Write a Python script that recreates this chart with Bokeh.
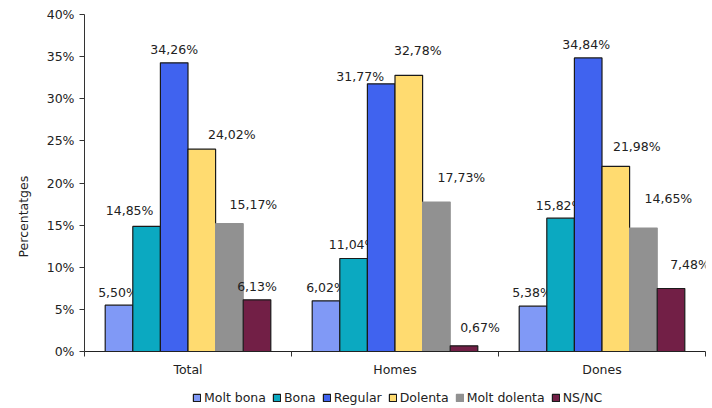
from bokeh.plotting import figure
from bokeh.models import (Range1d, FixedTicker, Legend, LegendItem, Title,
                          ColumnDataSource)
from bokeh.layouts import column
from bokeh.transform import dodge
from bokeh.embed import file_html
from bokeh.resources import INLINE
from bokeh.core.properties import value

# ---------------- data ----------------
categories = ["Total", "Homes", "Dones"]
series = ["Molt bona", "Bona", "Regular", "Dolenta", "Molt dolenta", "NS/NC"]
molt_bona = [5.50, 6.02, 5.38]
bona = [14.85, 11.04, 15.82]
regular = [34.26, 31.77, 34.84]
dolenta = [24.02, 32.78, 21.98]
molt_dolenta = [15.17, 17.73, 14.65]
ns_nc = [6.13, 0.67, 7.48]
y_ticks = [0, 5, 10, 15, 20, 25, 30, 35, 40]
y_axis_title = "Percentatges"

values = [molt_bona, bona, regular, dolenta, molt_dolenta, ns_nc]

# ---------------- style ----------------
fill_colors = ["#8099F6", "#0BA9C1", "#4063EF", "#FFDB70", "#919191", "#721F46"]
line_colors = ["#1a1a1a", "#1a1a1a", "#1a1a1a", "#1a1a1a", "#919191", "#1a1a1a"]
# label pixel offsets (dx right, dy up from bar top), per series per category
label_dx = [[-1, 0, -1], [-17, -1, -1], [0, -21, -2],
            [30, 9, 21], [24, 25, 25], [0, 16, 19]]
label_dy = [[13, 13, 14], [16, 14, 13], [13, 7, 13],
            [15, 25, 20], [19, 25, 30], [13, 18, 24]]
FONT = "DejaVu Sans"
FS = "12.5px"
TXT = "#222222"

n = len(series)
group_w = 0.8
bar_w = group_w / n

p = figure(width=712, height=384,
           x_range=Range1d(0, len(categories)), y_range=Range1d(0, 40),
           output_backend="svg", toolbar_location=None,
           min_border_left=84, min_border_right=7,
           min_border_top=14, min_border_bottom=33)
p.outline_line_color = None
p.xgrid.visible = False
p.ygrid.visible = False

xs = [i + 0.5 for i in range(len(categories))]
sources = []
for k, (name, vals) in enumerate(zip(series, values)):
    off = -group_w / 2 + (k + 0.5) * bar_w
    src = ColumnDataSource(dict(
        x=xs, top=vals,
        lab=[("%.2f%%" % v).replace(".", ",") for v in vals],
        dx=label_dx[k], dy=[-d for d in label_dy[k]],
    ))
    sources.append(src)
    p.vbar(x=dodge("x", off, range=p.x_range), top="top", width=bar_w,
           source=src, fill_color=fill_colors[k], line_color=line_colors[k],
           line_width=1.2)
    p.text(x=dodge("x", off, range=p.x_range), y="top", text="lab",
           x_offset="dx", y_offset="dy", source=src,
           text_font=value(FONT), text_font_size=FS, text_color=TXT,
           text_align="center", text_baseline="middle")

# y axis
ya = p.yaxis[0]
ya.ticker = FixedTicker(ticks=y_ticks)
ya.major_label_overrides = {t: "%d%%" % t for t in y_ticks}
ya.minor_tick_line_color = None
ya.major_tick_in = 0
ya.major_tick_out = 5
ya.major_label_standoff = 5
ya.axis_line_color = "#333333"
ya.major_tick_line_color = "#333333"
ya.major_label_text_font = FONT
ya.major_label_text_font_size = FS
ya.major_label_text_color = TXT

# x axis
xa = p.xaxis[0]
xa.ticker = FixedTicker(ticks=xs, minor_ticks=list(range(len(categories) + 1)))
xa.major_label_overrides = {x: c for x, c in zip(xs, categories)}
xa.major_tick_line_color = None
xa.major_tick_out = 0
xa.major_tick_in = 0
xa.minor_tick_in = 0
xa.minor_tick_out = 5
xa.minor_tick_line_color = "#333333"
xa.axis_line_color = "#222222"
xa.major_label_standoff = 5
xa.major_label_text_font = FONT
xa.major_label_text_font_size = FS
xa.major_label_text_color = TXT

# y axis title (sits below the axis centre, as in the reference)
p.add_layout(Title(text=y_axis_title, align="left", offset=94,
                   text_font=FONT, text_font_size=FS, text_font_style="normal",
                   text_color=TXT, standoff=26), "left")

# legend strip: hidden renderers, only the legend is shown
lg = figure(width=712, height=24, x_range=Range1d(0, len(categories)),
            y_range=Range1d(0, 40),
            output_backend="svg", toolbar_location=None, min_border=0)
lg.axis.visible = False
lg.xgrid.visible = False
lg.ygrid.visible = False
lg.outline_line_color = None
items = []
for k, name in enumerate(series):
    rr = lg.vbar(x="x", top="top", width=bar_w, source=sources[k],
                 fill_color=fill_colors[k], line_color=line_colors[k],
                 line_width=1.2)
    rr.visible = False
    items.append(LegendItem(label=name, renderers=[rr]))
legend = Legend(items=items, orientation="horizontal", location=(108, 3),
                border_line_color=None, background_fill_alpha=0,
                inactive_fill_alpha=0,
                padding=0, margin=0, spacing=6, label_standoff=3,
                glyph_width=9, glyph_height=9, label_height=12,
                label_text_font=FONT, label_text_font_size=FS,
                label_text_color=TXT, label_text_baseline="middle")
lg.add_layout(legend, "center")

open("out.html", "w").write(file_html(column(p, lg), INLINE))
